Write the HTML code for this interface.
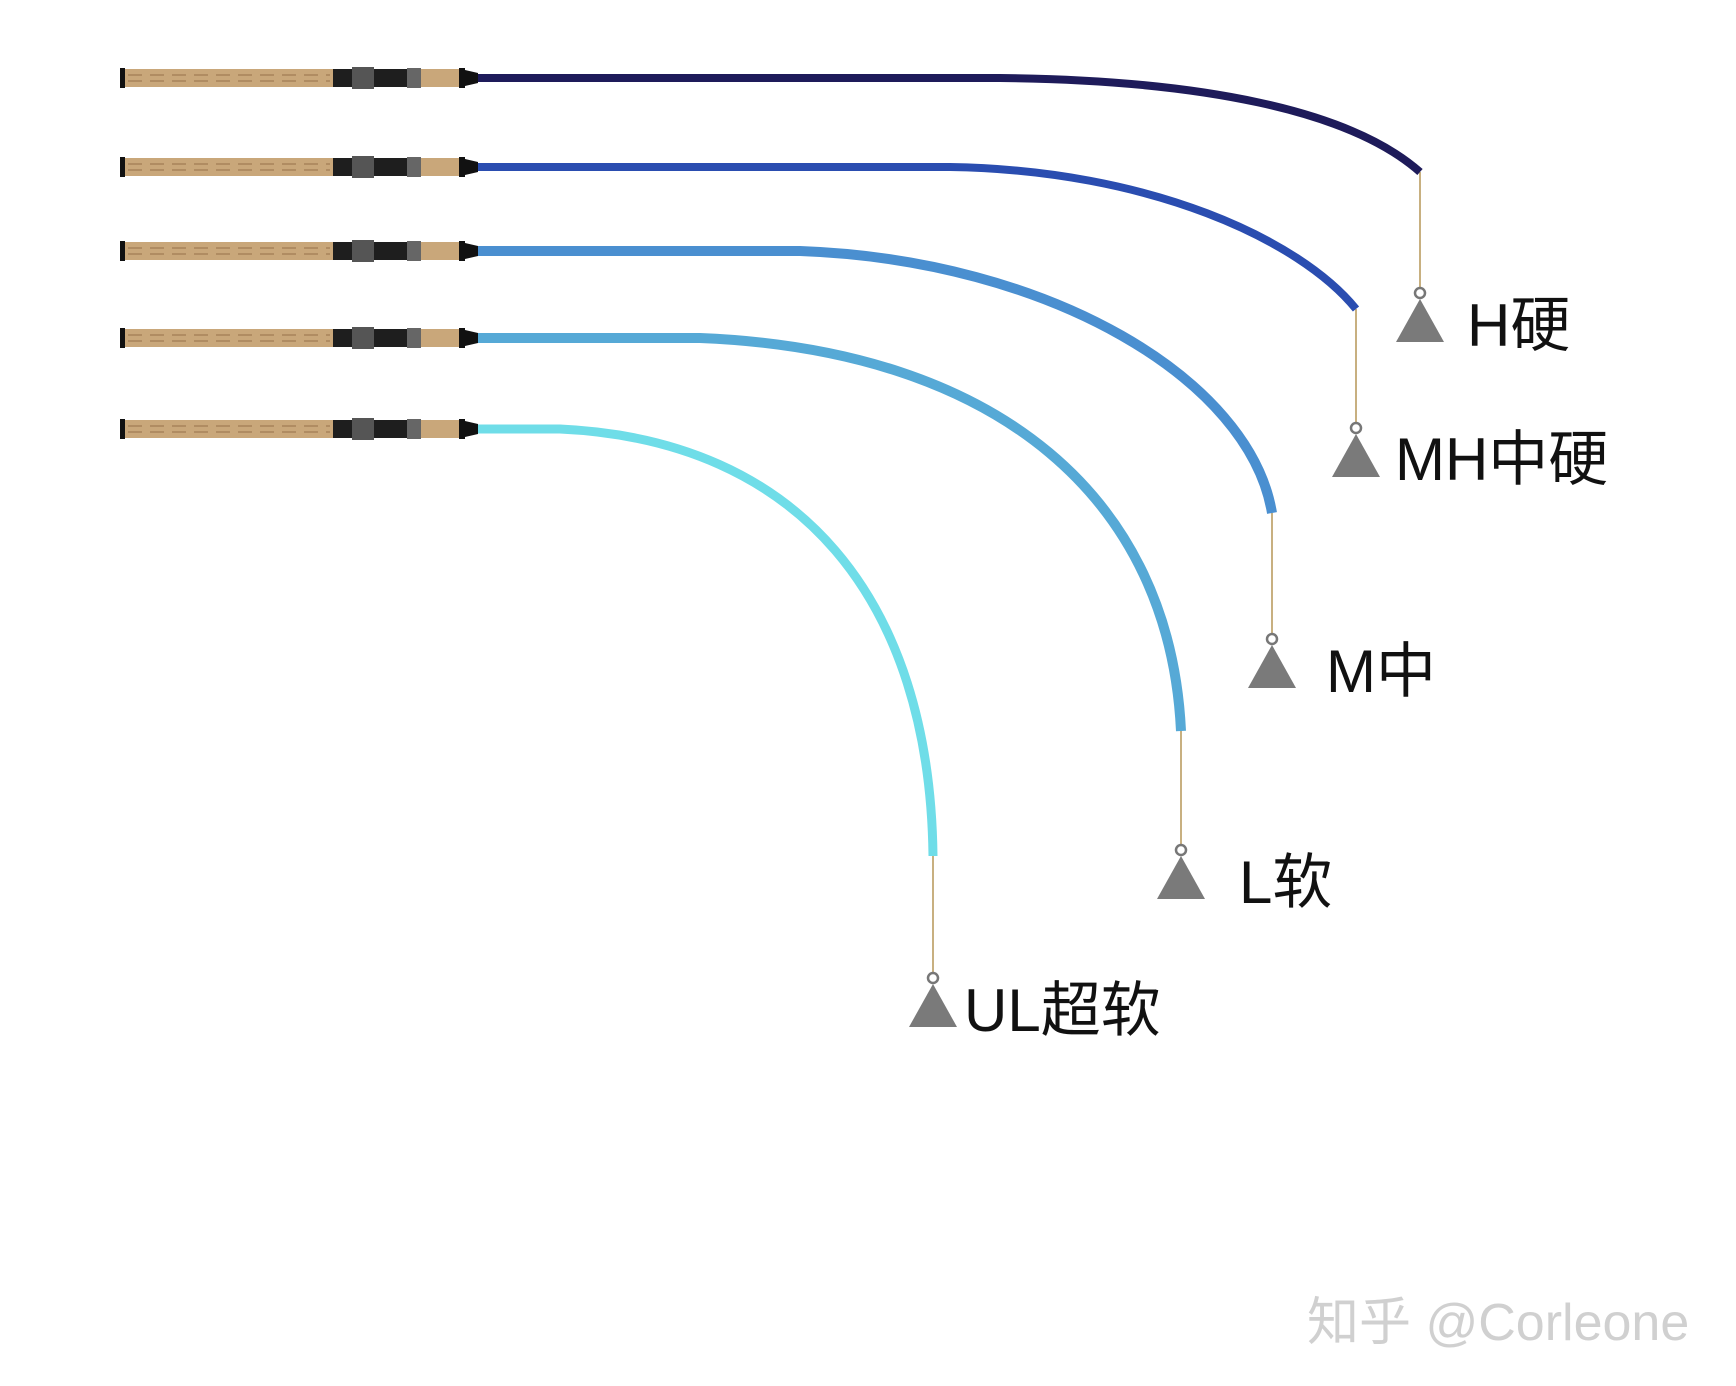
<!DOCTYPE html>
<html><head><meta charset="utf-8"><style>
html,body{margin:0;padding:0;background:#fff;}
svg{display:block;}
text{font-family:"Liberation Sans","Noto Sans CJK SC",sans-serif;fill:#111;}
</style></head><body>
<svg width="1736" height="1386" viewBox="0 0 1736 1386" xmlns="http://www.w3.org/2000/svg">
<defs>
<g id="grip">
  <rect x="123" y="-9" width="210" height="18" fill="#c9a77a"/>
  <path d="M128,-3 H330 M128,3 H330" stroke="#a8835a" stroke-width="1.5" stroke-dasharray="14,8"/>
  <rect x="120" y="-10" width="5" height="20" fill="#111"/>
  <rect x="333" y="-9" width="88" height="18" fill="#1e1e1e"/>
  <rect x="352" y="-11" width="22" height="22" fill="#555"/>
  <rect x="407" y="-10" width="14" height="20" fill="#666"/>
  <rect x="421" y="-9" width="38" height="18" fill="#c9a77a"/>
  <rect x="459" y="-10" width="6" height="20" fill="#111"/>
  <path d="M465,-8 L478,-5 L478,5 L465,8Z" fill="#111"/>
</g>
<g id="wt">
  <circle cx="0" cy="-7" r="5" fill="none" stroke="#777" stroke-width="2.5"/>
  <path d="M0,-1 L24,42 L-24,42Z" fill="#7a7a7a"/>
</g>
</defs>
<g stroke="#c8b080" stroke-width="2" fill="none">
  <path d="M1420,172 V288"/>
  <path d="M1356,309 V423"/>
  <path d="M1272,513 V634"/>
  <path d="M1181,731 V845"/>
  <path d="M933,856 V973"/>
</g>
<g fill="none" stroke-linecap="butt">
  <path d="M478,78 L1000,78 C1200,80 1350,110 1420,172" stroke="#1e1b5a" stroke-width="8"/>
  <path d="M478,167 L950,167 C1150,170 1300,240 1356,309" stroke="#2a4db0" stroke-width="8"/>
  <path d="M478,251 L800,251 C1050,260 1250,380 1272,513" stroke="#4a8fd0" stroke-width="10"/>
  <path d="M478,338 L700,338 C1000,350 1170,500 1181,731" stroke="#56a9d6" stroke-width="10"/>
  <path d="M478,429 L560,429 C800,440 930,600 933,856" stroke="#6fdde8" stroke-width="9"/>
</g>
<use href="#grip" transform="translate(0,78)"/>
<use href="#grip" transform="translate(0,167)"/>
<use href="#grip" transform="translate(0,251)"/>
<use href="#grip" transform="translate(0,338)"/>
<use href="#grip" transform="translate(0,429)"/>
<use href="#wt" transform="translate(1420,300)"/>
<use href="#wt" transform="translate(1356,435)"/>
<use href="#wt" transform="translate(1272,646)"/>
<use href="#wt" transform="translate(1181,857)"/>
<use href="#wt" transform="translate(933,985)"/>
<g font-size="60">
<text x="1467" y="346">H硬</text>
<text x="1395" y="480">MH中硬</text>
<text x="1326" y="692">M中</text>
<text x="1239" y="903">L软</text>
<text x="964" y="1031">UL超软</text>
</g>
<text x="1307" y="1340" font-size="52" style="fill:#d0d0d0">知乎 @Corleone</text>
</svg>
</body></html>
